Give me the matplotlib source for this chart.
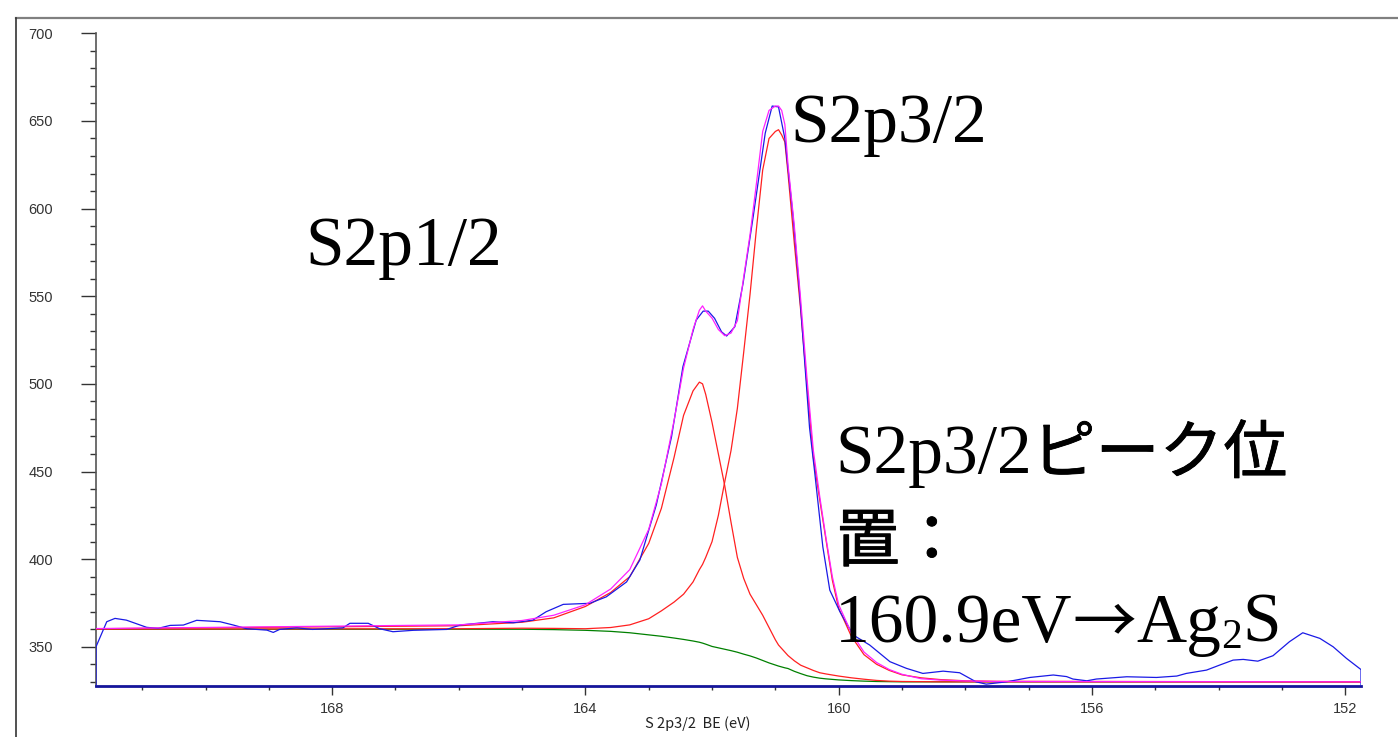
import matplotlib
matplotlib.use("Agg")
import matplotlib.pyplot as plt
import matplotlib.patheffects as pe
from matplotlib.lines import Line2D
from matplotlib.ticker import MultipleLocator

# measured S 2p spectrum (blue), (binding energy eV, counts)
raw_points = [
    (171.73, 328.0), (171.73, 350.0), (171.56, 364.3), (171.43, 366.2), (171.25, 365.2),
    (170.93, 361.1), (170.75, 360.5), (170.56, 362.2), (170.35, 362.4), (170.14, 365.1),
    (169.77, 364.3), (169.56, 362.4), (169.35, 360.3), (169.03, 359.5), (168.93, 358.2),
    (168.83, 359.9), (168.56, 360.8), (168.31, 359.9), (167.83, 360.8), (167.72, 363.4),
    (167.43, 363.4), (167.25, 360.3), (167.04, 358.6), (166.72, 359.4), (166.19, 359.9),
    (165.98, 362.4), (165.46, 364.3), (165.14, 363.7), (164.83, 365.2), (164.62, 370.0),
    (164.35, 374.2), (163.93, 374.8), (163.67, 378.5), (163.35, 387.0), (163.14, 399.5),
    (162.88, 431.0), (162.64, 469.8), (162.46, 509.8), (162.25, 536.4), (162.14, 541.5),
    (162.06, 541.5), (161.96, 537.4), (161.85, 529.7), (161.77, 527.3), (161.64, 532.6),
    (161.51, 557.3), (161.35, 595.4), (161.16, 643.0), (161.05, 658.5), (160.95, 658.0),
    (160.85, 640.0), (160.72, 595.4), (160.62, 553.5), (160.46, 475.0), (160.38, 450.0),
    (160.25, 407.0), (160.14, 382.3), (159.98, 370.0), (159.77, 356.7), (159.51, 351.0),
    (159.19, 341.5), (158.93, 337.7), (158.67, 334.8), (158.35, 336.1), (158.09, 335.2),
    (157.83, 330.0), (157.67, 328.7), (157.35, 330.0), (156.98, 332.5), (156.61, 333.9),
    (156.40, 333.0), (156.30, 331.6), (156.08, 330.6), (155.93, 331.6), (155.45, 332.9),
    (154.98, 332.5), (154.66, 333.3), (154.51, 334.8), (154.19, 336.7), (153.98, 339.6),
    (153.77, 342.4), (153.61, 342.8), (153.38, 341.8), (153.14, 344.9), (152.88, 352.9),
    (152.67, 358.0), (152.40, 354.8), (152.19, 350.0), (151.98, 343.4), (151.75, 337.0),
    (151.75, 328.0),
]

# fitted curves on a common energy grid
be_fit = [171.73, 166.0, 165.0, 164.5, 164.0, 163.6, 163.3, 163.0, 162.8, 162.6,
          162.45, 162.3, 162.2, 162.15, 162.1, 162.0, 161.9, 161.8, 161.7, 161.6,
          161.5, 161.4, 161.3, 161.2, 161.1, 161.0, 160.95, 160.9, 160.85, 160.8,
          160.7, 160.6, 160.5, 160.4, 160.3, 160.2, 160.1, 160.0, 159.8, 159.6,
          159.4, 159.2, 159.0, 158.7, 158.4, 158.0, 157.5, 151.75]

background = [360.0, 360.0, 360.0, 359.8, 359.4, 358.8, 358.0, 356.8, 356.0, 355.0,
              354.2, 353.3, 352.6, 352.1, 351.5, 350.2, 349.4, 348.6, 347.8, 346.9,
              345.8, 344.8, 343.6, 342.2, 340.8, 339.6, 339.0, 338.5, 338.0, 337.6,
              336.0, 334.7, 333.5, 332.7, 332.1, 331.7, 331.4, 331.1, 330.7, 330.4,
              330.2, 330.1, 330.0, 330.0, 330.0, 330.0, 330.0, 330.0]

peak_1_2 = [360.3, 362.0, 364.0, 366.5, 373.0, 381.0, 390.0, 409.0, 429.0, 458.0,
            482.0, 496.0, 501.0, 500.0, 494.0, 478.0, 460.0, 442.0, 421.0, 401.0,
            389.0, 380.0, 374.0, 368.0, 361.0, 354.0, 351.0, 349.0, 347.0, 345.0,
            342.0, 339.5, 338.0, 336.5, 335.2, 334.5, 333.9, 333.3, 332.3, 331.5,
            330.8, 330.4, 330.2, 330.1, 330.0, 330.0, 330.0, 330.0]

peak_3_2 = [360.1, 360.3, 360.6, 360.5, 360.3, 361.0, 362.5, 366.0, 370.5, 375.5,
            380.0, 387.0, 394.0, 397.0, 401.0, 410.0, 425.0, 444.0, 462.0, 486.0,
            518.0, 551.0, 588.0, 622.0, 640.0, 644.0, 645.0, 642.0, 638.0, 620.0,
            580.0, 542.0, 499.0, 458.0, 434.0, 411.0, 388.0, 372.0, 356.0, 345.5,
            340.0, 336.5, 334.0, 332.3, 331.3, 330.6, 330.3, 330.0]

envelope = [360.4, 362.5, 365.0, 368.0, 374.0, 383.0, 394.0, 417.0, 443.0, 479.0,
            509.0, 531.0, 542.0, 544.5, 541.5, 537.5, 531.0, 527.5, 529.0, 536.0,
            561.0, 585.0, 614.0, 644.0, 656.0, 658.5, 658.5, 656.0, 648.0, 625.0,
            590.0, 548.0, 503.0, 462.0, 436.0, 412.0, 390.0, 374.0, 358.0, 347.0,
            341.0, 337.0, 334.3, 331.8, 331.0, 330.5, 330.2, 330.0]

W, H = 1398, 737
SERIF = ['Liberation Serif', 'Noto Sans CJK JP']
GOTHIC = ['Noto Sans CJK JP', 'DejaVu Sans']
# a touch heavier than the regular gothic weight
THICK = [pe.Stroke(linewidth=0.6, foreground='black'), pe.Normal()]


def fpos(x, y):
    """pixel position (from top-left) -> figure fraction"""
    return x / W, 1 - y / H


fig = plt.figure(figsize=(W / 100, H / 100), dpi=100)
ax = fig.add_axes([96 / W, 1 - 685.7 / H, (1361 - 96) / W, (685.7 - 33.3) / H])

be_raw = [p[0] for p in raw_points]
cps_raw = [p[1] for p in raw_points]

ax.plot(be_fit, background, color='#008000', lw=0.9, zorder=2)
ax.plot(be_fit, peak_1_2, color='#ff2020', lw=0.9, zorder=3)
ax.plot(be_fit, peak_3_2, color='#ff2020', lw=0.9, zorder=3)
ax.plot(be_raw, cps_raw, color='#1a1ae6', lw=0.9, zorder=4)
ax.plot(be_fit, envelope, color='#ff20ff', lw=0.9, zorder=5)

ax.set_xlim(171.73, 151.75)
ax.set_ylim(327.8, 700)

for s in ['top', 'right']:
    ax.spines[s].set_visible(False)
ax.spines['left'].set_color('#555555')
ax.spines['left'].set_linewidth(1.2)
ax.spines['bottom'].set_color('#15159a')
ax.spines['bottom'].set_linewidth(2.0)

ax.xaxis.set_major_locator(MultipleLocator(4))
ax.xaxis.set_minor_locator(MultipleLocator(1))
ax.yaxis.set_major_locator(MultipleLocator(50))
ax.yaxis.set_minor_locator(MultipleLocator(10))
ax.tick_params(axis='x', which='major', direction='out', length=6.5, width=1,
               pad=5, labelsize=10.5, colors='#333333')
ax.tick_params(axis='x', which='minor', direction='out', length=3.2, width=1,
               colors='#333333')
ax.tick_params(axis='y', which='major', direction='out', length=10.8, width=1,
               pad=20, labelsize=10.5, colors='#333333')
ax.tick_params(axis='y', which='minor', direction='out', length=4.3, width=1,
               colors='#333333')
for lab in ax.get_xticklabels() + ax.get_yticklabels():
    lab.set_family('Liberation Sans')

# x-axis title
fig.text(*fpos(698, 724), 'S 2p3/2  BE (eV)', family=GOTHIC, fontsize=10.5,
         ha='center', va='center', color='#222222')

# frame around the plot window
fig.add_artist(Line2D([16 / W, 1], [1 - 17.5 / H] * 2, transform=fig.transFigure,
                      color='#808080', lw=1.6))
fig.add_artist(Line2D([16 / W] * 2, [0, 1 - 17.5 / H], transform=fig.transFigure,
                      color='#333333', lw=1.2))

# annotations
fig.text(*fpos(305, 265), 'S2p1/2', family=SERIF, fontsize=50, va='baseline')
fig.text(*fpos(790, 142), 'S2p3/2', family=SERIF, fontsize=50, va='baseline')

renderer = fig.canvas.get_renderer()


def chain(parts, x, y):
    """write text pieces one after another on the same baseline"""
    for txt, fam, size, dy, effects in parts:
        t = fig.text(x / W, 1 - (y + dy) / H, txt, family=fam, fontsize=size,
                     va='baseline', path_effects=effects)
        bb = t.get_window_extent(renderer)
        x = bb.x1


chain([('S2p3/2', SERIF, 50, 0, None), ('ピーク位', GOTHIC, 46, 0, THICK)],
      835, 473)
chain([('置：', GOTHIC, 46, 0, THICK)], 836, 561)
chain([('160.9eV', SERIF, 50, 0, None), ('→', GOTHIC, 46, 0, None),
       ('Ag', SERIF, 50, 0, None), ('2', SERIF, 30, 6, None),
       ('S', SERIF, 50, 0, None)], 835, 642)

fig.savefig('out.png', dpi=100)
